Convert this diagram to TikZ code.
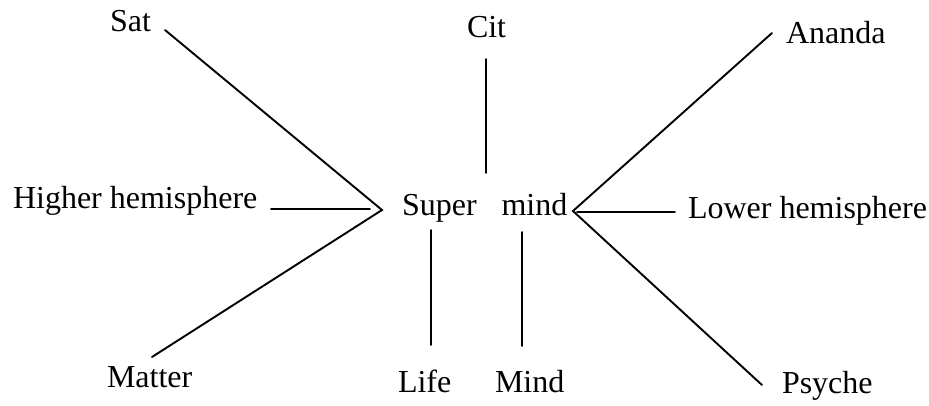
\documentclass[tikz,border=0pt]{standalone}
\usepackage{fontspec}
\setmainfont{Liberation Serif}
\begin{document}
\begin{tikzpicture}[x=1pt,y=-1pt,
  lbl/.style={anchor=base west,inner sep=0pt,outer sep=0pt,font=\fontsize{32}{38}\selectfont},
  conn/.style={line width=1.9pt,line cap=round}]
\useasboundingbox (0,0) rectangle (929,405);
% labels
\node[lbl] (sat) at (110,31) {Sat};
\node[lbl] (cit) at (467,37) {Cit};
\node[lbl] (ananda) at (786,43) {Ananda};
\node[lbl] (higher) at (13,208) {Higher hemisphere};
\node[lbl] (super) at (402,215) {Super\hspace{0.78em}mind};
\node[lbl] (lower) at (688,218) {Lower hemisphere};
\node[lbl] (matter) at (107,387) {Matter};
\node[lbl] (life) at (398,392) {Life};
\node[lbl] (mindl) at (495,392) {Mind};
\node[lbl] (psyche) at (782,393) {Psyche};
% connector end points
\coordinate (lv) at (382,210);
\coordinate (rv) at (573,211);
\coordinate (satend) at (165,30);
\coordinate (higherend) at (271,209);
\coordinate (higherin) at (370,209);
\coordinate (matterend) at (152,357);
\coordinate (citA) at (486,59);
\coordinate (citB) at (486,173);
\coordinate (lifeA) at (431,230);
\coordinate (lifeB) at (431,345);
\coordinate (mindA) at (522,232);
\coordinate (mindB) at (522,346);
\coordinate (anandaend) at (772,33);
\coordinate (lowerin) at (577,212);
\coordinate (lowerend) at (675,212);
\coordinate (psycheend) at (762,385);
% connectors
\draw[conn] (satend) -- (lv) -- (matterend);
\draw[conn] (higherend) -- (higherin);
\draw[conn] (citA) -- (citB);
\draw[conn] (lifeA) -- (lifeB);
\draw[conn] (mindA) -- (mindB);
\draw[conn] (anandaend) -- (rv) -- (psycheend);
\draw[conn] (lowerin) -- (lowerend);
\end{tikzpicture}
\end{document}
